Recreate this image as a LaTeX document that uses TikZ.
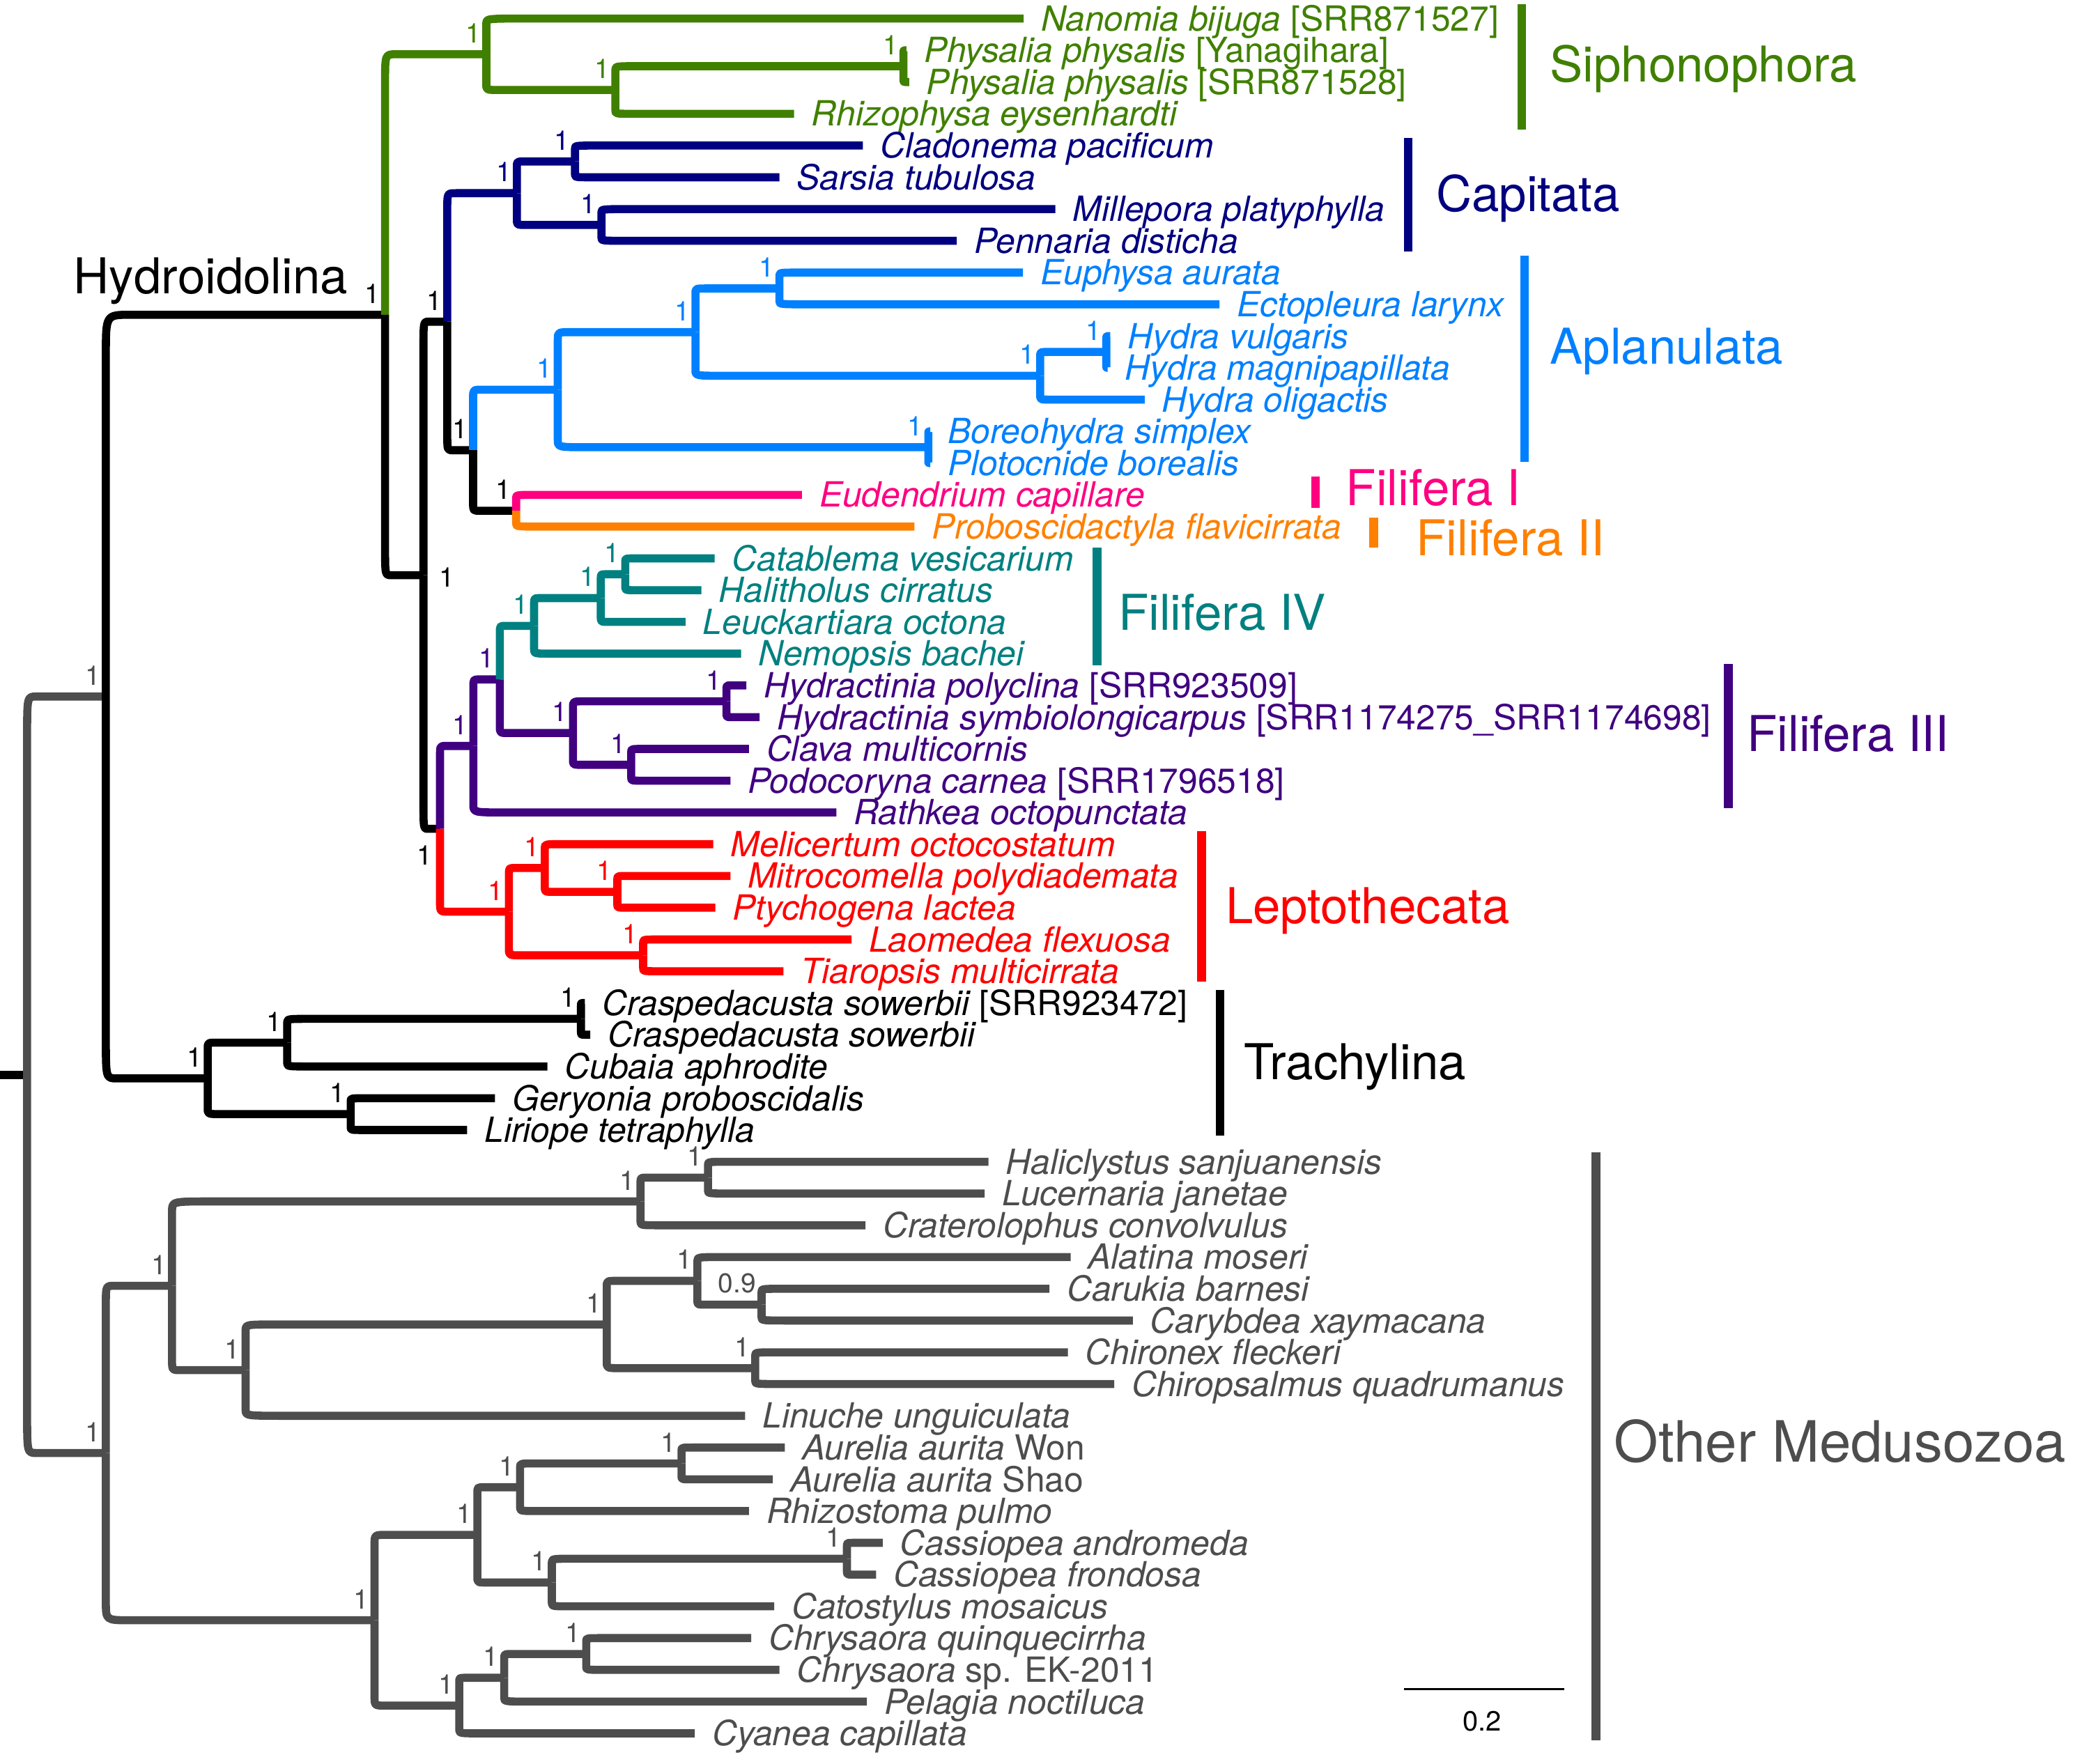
\documentclass[tikz,border=0pt]{standalone}
\usepackage{fontspec}
\setmainfont{TeX Gyre Heros}
\definecolor{cgreen}{RGB}{64,128,0}
\definecolor{cnavy}{RGB}{0,0,128}
\definecolor{cblue}{RGB}{0,128,255}
\definecolor{cpink}{RGB}{255,0,128}
\definecolor{corange}{RGB}{255,128,0}
\definecolor{cteal}{RGB}{0,128,128}
\definecolor{cpurple}{RGB}{64,0,128}
\definecolor{cred}{RGB}{255,0,0}
\definecolor{cgray}{RGB}{77,77,77}
\tikzset{
 branch/.style={line width=6.1pt, line cap=butt, line join=round},
 tiplab/.style={font=\fontsize{26.2}{30}\selectfont\itshape, inner sep=0pt, anchor=base west},
 suplab/.style={font=\fontsize{20.5}{24}\selectfont, inner sep=0pt, anchor=south east},
 cladelab/.style={font=\fontsize{37.3}{40}\selectfont, inner sep=0pt, anchor=base west},
 cladebar/.style={line width=6.5pt, line cap=butt},
}
% color, parent x, stem y, child y, child x, corner factor
\newcommand\br[6]{%
  \pgfmathsetmacro\brvl{abs(#4-(#3))}%
  \pgfmathsetmacro\brhl{abs(#5-(#2))}%
  \pgfmathsetmacro\brrx{min(0.5*\brhl,(0.075*\brhl+2.5)*#6)}%
  \pgfmathsetmacro\brry{min(0.5*\brvl,(0.1*\brvl+1)*#6)}%
  \pgfmathsetmacro\brsg{(#4>#3)?1:-1}%
  \draw[branch,#1] (#2,#3) -- (#2,{#4-\brsg*\brry}) .. controls (#2,#4) .. ({#2+\brrx},#4) -- (#5,#4);%
}
\newcommand\tipl[5]{\node[tiplab,text=#2] (#1) at ({#3+13},{#4+9.3}) {#5};}
\newcommand\supl[5]{\node[suplab,text=#2] (#1) at ({#3-4},{#4-8.5}) {#5};}
\begin{document}
\begin{tikzpicture}[x=1pt,y=-1pt]
\useasboundingbox (0,0) rectangle (1568,1333);
% root
\draw[branch,black] (0,812.3) -- (20.5,812.3);
\br{cgray}{20.5}{812.3}{526.4}{80}{1}
\br{cgray}{20.5}{812.3}{1098.1}{80}{1}
% Hydrozoa
\br{black}{80}{526.4}{237.9}{291}{1}
\br{black}{80}{526.4}{815}{157}{1}
% Hydroidolina
\br{cgreen}{291}{237.9}{41}{367.5}{1}
\br{black}{291}{237.9}{434.7}{320}{1}
% Siphonophora
\br{cgreen}{367.5}{41}{14}{773.5}{1}
\br{cgreen}{367.5}{41}{68}{465}{1}
\br{cgreen}{465}{68}{50}{682.7}{1}
\br{cgreen}{465}{68}{86}{600}{1}
\br{cgreen}{682.7}{50}{38}{685}{1}
\br{cgreen}{682.7}{50}{62}{687}{1}
% N320
\br{black}{320}{434.7}{243.1}{338}{1}
\br{black}{320}{434.7}{626.4}{332.5}{1}
% N337
\br{cnavy}{338}{243.1}{146}{390.6}{1}
\br{black}{338}{243.1}{340.25}{357.5}{1}
% Capitata
\br{cnavy}{390.6}{146}{122}{434.5}{1}
\br{cnavy}{390.6}{146}{170}{454.5}{1}
\br{cnavy}{434.5}{122}{110}{652}{1}
\br{cnavy}{434.5}{122}{134}{589}{1}
\br{cnavy}{454.5}{170}{158}{797.5}{1}
\br{cnavy}{454.5}{170}{182}{723}{1}
% N355
\br{cblue}{357.5}{340.25}{294.5}{421.5}{1}
\br{black}{357.5}{340.25}{386}{390}{1}
% Aplanulata
\br{cblue}{421.5}{294.5}{251}{525.5}{1}
\br{cblue}{421.5}{294.5}{338}{701.5}{1}
\br{cblue}{525.5}{251}{218}{589}{1}
\br{cblue}{525.5}{251}{284}{786}{1}
\br{cblue}{589}{218}{206}{773}{1}
\br{cblue}{589}{218}{230}{921.5}{1}
\br{cblue}{786}{284}{266}{836}{1}
\br{cblue}{786}{284}{302}{865}{1}
\br{cblue}{836}{266}{254}{839}{1}
\br{cblue}{836}{266}{278}{837}{1}
\br{cblue}{701.5}{338}{326}{703}{1}
\br{cblue}{701.5}{338}{350}{703}{1}
% Filifera I / II
\br{cpink}{390}{386}{374}{606}{1}
\br{corange}{390}{386}{398}{691}{1}
% N330
\br{cpurple}{332.5}{626.4}{563.75}{357.7}{1}
\br{cred}{332.5}{626.4}{689}{384.6}{1}
% N357
\br{cpurple}{357.7}{563.75}{513.5}{377.7}{1}
\br{cpurple}{357.7}{563.75}{614}{632}{1}
% N377
\br{cteal}{377.7}{513.5}{473}{403.6}{1}
\br{cpurple}{377.7}{513.5}{554}{433}{1}
% Filifera IV
\br{cteal}{403.6}{473}{452}{454}{1}
\br{cteal}{403.6}{473}{494}{560}{1}
\br{cteal}{454}{452}{434}{472.5}{1}
\br{cteal}{454}{452}{470}{518}{1}
\br{cteal}{472.5}{434}{422}{540}{1}
\br{cteal}{472.5}{434}{446}{530}{1}
% Filifera III
\br{cpurple}{433}{554}{530}{549}{1}
\br{cpurple}{433}{554}{578}{477}{1}
\br{cpurple}{549}{530}{518}{564}{1}
\br{cpurple}{549}{530}{542}{574}{1}
\br{cpurple}{477}{578}{566}{566}{1}
\br{cpurple}{477}{578}{590}{552}{1}
% Leptothecata
\br{cred}{384.6}{689}{656}{411.7}{1}
\br{cred}{384.6}{689}{722}{486}{1}
\br{cred}{411.7}{656}{638}{539}{1}
\br{cred}{411.7}{656}{674}{466.5}{1}
\br{cred}{466.5}{674}{662}{552}{1}
\br{cred}{466.5}{674}{686}{540.5}{1}
\br{cred}{486}{722}{710}{643.5}{1}
\br{cred}{486}{722}{734}{592}{1}
% Trachylina
\br{black}{157}{815}{788}{217}{1}
\br{black}{157}{815}{842}{265}{1}
\br{black}{217}{788}{770}{439}{1}
\br{black}{217}{788}{806}{413.6}{1}
\br{black}{439}{770}{758}{442}{1}
\br{black}{439}{770}{782}{446}{1}
\br{black}{265}{842}{830}{374}{1}
\br{black}{265}{842}{854}{353}{1}
% Other Medusozoa
\br{cgray}{80}{1098.1}{971.75}{130}{1}
\br{cgray}{80}{1098.1}{1224.5}{283}{1}
\br{cgray}{130}{971.75}{908}{484}{1}
\br{cgray}{130}{971.75}{1035.5}{185.6}{1}
\br{cgray}{484}{908}{890}{535}{1}
\br{cgray}{484}{908}{926}{654}{1}
\br{cgray}{535}{890}{878}{747}{1}
\br{cgray}{535}{890}{902}{744}{1}
\br{cgray}{185.6}{1035.5}{1001}{458.5}{1}
\br{cgray}{185.6}{1035.5}{1070}{563}{1}
\br{cgray}{458.5}{1001}{968}{527}{1}
\br{cgray}{458.5}{1001}{1034}{570.7}{1}
\br{cgray}{527}{968}{950}{809}{1}
\br{cgray}{527}{968}{986}{575.5}{1}
\br{cgray}{575.5}{986}{974}{793}{1}
\br{cgray}{575.5}{986}{998}{856}{1}
\br{cgray}{570.7}{1034}{1022}{807}{1}
\br{cgray}{570.7}{1034}{1046}{842}{1}
\br{cgray}{283}{1224.5}{1160}{360.7}{1}
\br{cgray}{283}{1224.5}{1289}{347}{1}
\br{cgray}{360.7}{1160}{1124}{393}{1}
\br{cgray}{360.7}{1160}{1196}{417}{1}
\br{cgray}{393}{1124}{1106}{515}{1}
\br{cgray}{393}{1124}{1142}{566}{1}
\br{cgray}{515}{1106}{1094}{593}{1}
\br{cgray}{515}{1106}{1118}{584}{1}
\br{cgray}{417}{1196}{1178}{640}{1}
\br{cgray}{417}{1196}{1214}{585}{1}
\br{cgray}{640}{1178}{1166}{667}{1}
\br{cgray}{640}{1178}{1190}{662}{1}
\br{cgray}{347}{1289}{1268}{381}{1}
\br{cgray}{347}{1289}{1310}{525}{1}
\br{cgray}{381}{1268}{1250}{443}{1}
\br{cgray}{381}{1268}{1286}{655}{1}
\br{cgray}{443}{1250}{1238}{567.6}{1}
\br{cgray}{443}{1250}{1262}{589}{1}

% tip labels
\tipl{t1}{cgreen}{773.5}{14}{Nanomia bijuga \upshape[SRR871527]}
\tipl{t2}{cgreen}{685}{38}{Physalia physalis \upshape[Yanagihara]}
\tipl{t3}{cgreen}{687}{62}{Physalia physalis \upshape[SRR871528]}
\tipl{t4}{cgreen}{600}{86}{Rhizophysa eysenhardti}
\tipl{t5}{cnavy}{652}{110}{Cladonema pacificum}
\tipl{t6}{cnavy}{589}{134}{Sarsia tubulosa}
\tipl{t7}{cnavy}{797.5}{158}{Millepora platyphylla}
\tipl{t8}{cnavy}{723}{182}{Pennaria disticha}
\tipl{t9}{cblue}{773}{206}{Euphysa aurata}
\tipl{t10}{cblue}{921.5}{230}{Ectopleura larynx}
\tipl{t11}{cblue}{839}{254}{Hydra vulgaris}
\tipl{t12}{cblue}{837}{278}{Hydra magnipapillata}
\tipl{t13}{cblue}{865}{302}{Hydra oligactis}
\tipl{t14}{cblue}{703}{326}{Boreohydra simplex}
\tipl{t15}{cblue}{703}{350}{Plotocnide borealis}
\tipl{t16}{cpink}{606}{374}{Eudendrium capillare}
\tipl{t17}{corange}{691}{398}{Proboscidactyla flavicirrata}
\tipl{t18}{cteal}{540}{422}{Catablema vesicarium}
\tipl{t19}{cteal}{530}{446}{Halitholus cirratus}
\tipl{t20}{cteal}{518}{470}{Leuckartiara octona}
\tipl{t21}{cteal}{560}{494}{Nemopsis bachei}
\tipl{t22}{cpurple}{564}{518}{Hydractinia polyclina \upshape[SRR923509]}
\tipl{t23}{cpurple}{574}{542}{Hydractinia symbiolongicarpus \upshape[SRR1174275\_SRR1174698]}
\tipl{t24}{cpurple}{566}{566}{Clava multicornis}
\tipl{t25}{cpurple}{552}{590}{Podocoryna carnea \upshape[SRR1796518]}
\tipl{t26}{cpurple}{632}{614}{Rathkea octopunctata}
\tipl{t27}{cred}{539}{638}{Melicertum octocostatum}
\tipl{t28}{cred}{552}{662}{Mitrocomella polydiademata}
\tipl{t29}{cred}{540.5}{686}{Ptychogena lactea}
\tipl{t30}{cred}{643.5}{710}{Laomedea flexuosa}
\tipl{t31}{cred}{592}{734}{Tiaropsis multicirrata}
\tipl{t32}{black}{442}{758}{Craspedacusta sowerbii \upshape[SRR923472]}
\tipl{t33}{black}{446}{782}{Craspedacusta sowerbii}
\tipl{t34}{black}{413.6}{806}{Cubaia aphrodite}
\tipl{t35}{black}{374}{830}{Geryonia proboscidalis}
\tipl{t36}{black}{353}{854}{Liriope tetraphylla}
\tipl{t37}{cgray}{747}{878}{Haliclystus sanjuanensis}
\tipl{t38}{cgray}{744}{902}{Lucernaria janetae}
\tipl{t39}{cgray}{654}{926}{Craterolophus convolvulus}
\tipl{t40}{cgray}{809}{950}{Alatina moseri}
\tipl{t41}{cgray}{793}{974}{Carukia barnesi}
\tipl{t42}{cgray}{856}{998}{Carybdea xaymacana}
\tipl{t43}{cgray}{807}{1022}{Chironex fleckeri}
\tipl{t44}{cgray}{842}{1046}{Chiropsalmus quadrumanus}
\tipl{t45}{cgray}{563}{1070}{Linuche unguiculata}
\tipl{t46}{cgray}{593}{1094}{Aurelia aurita \upshape Won}
\tipl{t47}{cgray}{584}{1118}{Aurelia aurita \upshape Shao}
\tipl{t48}{cgray}{566}{1142}{Rhizostoma pulmo}
\tipl{t49}{cgray}{667}{1166}{Cassiopea andromeda}
\tipl{t50}{cgray}{662}{1190}{Cassiopea frondosa}
\tipl{t51}{cgray}{585}{1214}{Catostylus mosaicus}
\tipl{t52}{cgray}{567.6}{1238}{Chrysaora quinquecirrha}
\tipl{t53}{cgray}{589}{1262}{Chrysaora \upshape sp. EK-2011}
\tipl{t54}{cgray}{655}{1286}{Pelagia noctiluca}
\tipl{t55}{cgray}{525}{1310}{Cyanea capillata}

% support values
\supl{sHZ}{cgray}{80}{526.4}{1}
\supl{sHY}{black}{291}{237.9}{1}
\supl{sTR}{black}{157}{815}{1}
\supl{s217}{black}{217}{788}{1}
\supl{s440}{black}{439}{770}{1}
\supl{s265}{black}{265}{842}{1}
\supl{sSI}{cgreen}{367.5}{41}{1}
\supl{s463}{cgreen}{465}{68}{1}
\supl{sPH}{cgreen}{682.7}{50}{1}
\supl{s337}{black}{338}{243.1}{1}
\supl{sCA}{cnavy}{390.6}{146}{1}
\supl{s433}{cnavy}{434.5}{122}{1}
\supl{s455}{cnavy}{454.5}{170}{1}
\supl{s355}{black}{357.5}{340.25}{1}
\supl{sAP}{cblue}{421.5}{294.5}{1}
\supl{s524}{cblue}{525.5}{251}{1}
\supl{s589}{cblue}{589}{218}{1}
\supl{s786}{cblue}{786}{284}{1}
\supl{s835}{cblue}{836}{266}{1}
\supl{s702}{cblue}{701.5}{338}{1}
\supl{s388}{black}{390}{386}{1}
\supl{s357}{cpurple}{357.7}{563.75}{1}
\supl{s377}{cpurple}{377.7}{513.5}{1}
\supl{sF4}{cteal}{403.6}{473}{1}
\supl{s455b}{cteal}{454}{452}{1}
\supl{s472}{cteal}{472.5}{434}{1}
\supl{s433b}{cpurple}{433}{554}{1}
\supl{s549}{cpurple}{549}{530}{1}
\supl{s478}{cpurple}{477}{578}{1}
\supl{sLE}{cred}{384.6}{689}{1}
\supl{s411}{cred}{411.7}{656}{1}
\supl{s467}{cred}{466.5}{674}{1}
\supl{s487}{cred}{486}{722}{1}
\supl{sMZ}{cgray}{80}{1098.1}{1}
\supl{s130}{cgray}{130}{971.75}{1}
\supl{s484}{cgray}{484}{908}{1}
\supl{s535}{cgray}{535}{890}{1}
\supl{s184}{cgray}{185.6}{1035.5}{1}
\supl{s458}{cgray}{458.5}{1001}{1}
\supl{s524b}{cgray}{527}{968}{1}
\supl{s576}{cgray}{575.5}{986}{0.9}
\supl{s570}{cgray}{570.7}{1034}{1}
\supl{s282}{cgray}{283}{1224.5}{1}
\supl{s360}{cgray}{360.7}{1160}{1}
\supl{s393}{cgray}{393}{1124}{1}
\supl{s515}{cgray}{515}{1106}{1}
\supl{s417}{cgray}{417}{1196}{1}
\supl{s640}{cgray}{640}{1178}{1}
\supl{s347}{cgray}{347}{1289}{1}
\supl{s381}{cgray}{381}{1268}{1}
\supl{s443}{cgray}{443}{1250}{1}
\node[suplab,anchor=center,text=black] (s320) at (337.5,436.5) {1};
\node[suplab,anchor=center,text=black] (s330) at (321,646.5) {1};

% Hydroidolina label
\node[cladelab,anchor=base east] (hyd) at (263,222) {Hydroidolina};

% clade bars and labels
\draw[cladebar,cgreen] (1150,3) -- (1150,98);
\node[cladelab,text=cgreen] (lSI) at (1171,62) {Siphonophora};
\draw[cladebar,cnavy] (1064,104) -- (1064,190);
\node[cladelab,text=cnavy] (lCA) at (1085,160) {Capitata};
\draw[cladebar,cblue] (1152,193) -- (1152,349);
\node[cladelab,text=cblue] (lAP) at (1171,275) {Aplanulata};
\draw[cladebar,cpink] (994,360) -- (994,384);
\node[cladelab,text=cpink] (lF1) at (1017,382) {Filifera I};
\draw[cladebar,corange] (1038,391) -- (1038,414);
\node[cladelab,text=corange] (lF2) at (1070,420) {Filifera II};
\draw[cladebar,cteal] (829,414) -- (829,503);
\node[cladelab,text=cteal] (lF4) at (845,476) {Filifera IV};
\draw[cladebar,cpurple] (1306,502) -- (1306,611);
\node[cladelab,text=cpurple] (lF3) at (1320,568) {Filifera III};
\draw[cladebar,cred] (908,628) -- (908,742);
\node[cladelab,text=cred] (lLE) at (926,698) {Leptothecata};
\draw[cladebar,black] (922,748) -- (922,858);
\node[cladelab,text=black] (lTR) at (940,816) {Trachylina};
\draw[cladebar,cgray] (1206,871) -- (1206,1315);
\node[cladelab,text=cgray,font=\fontsize{43}{46}\selectfont] (lOM) at (1219.5,1105) {Other Medusozoa};

% scale bar
\coordinate (sb1) at (1061,1276.6);
\coordinate (sb2) at (1182,1276.6);
\draw[line width=2pt,black] (sb1) -- (sb2);
\node[font=\fontsize{21}{24}\selectfont,inner sep=0pt] (sbl) at (1120,1301) {0.2};
\end{tikzpicture}
\end{document}
